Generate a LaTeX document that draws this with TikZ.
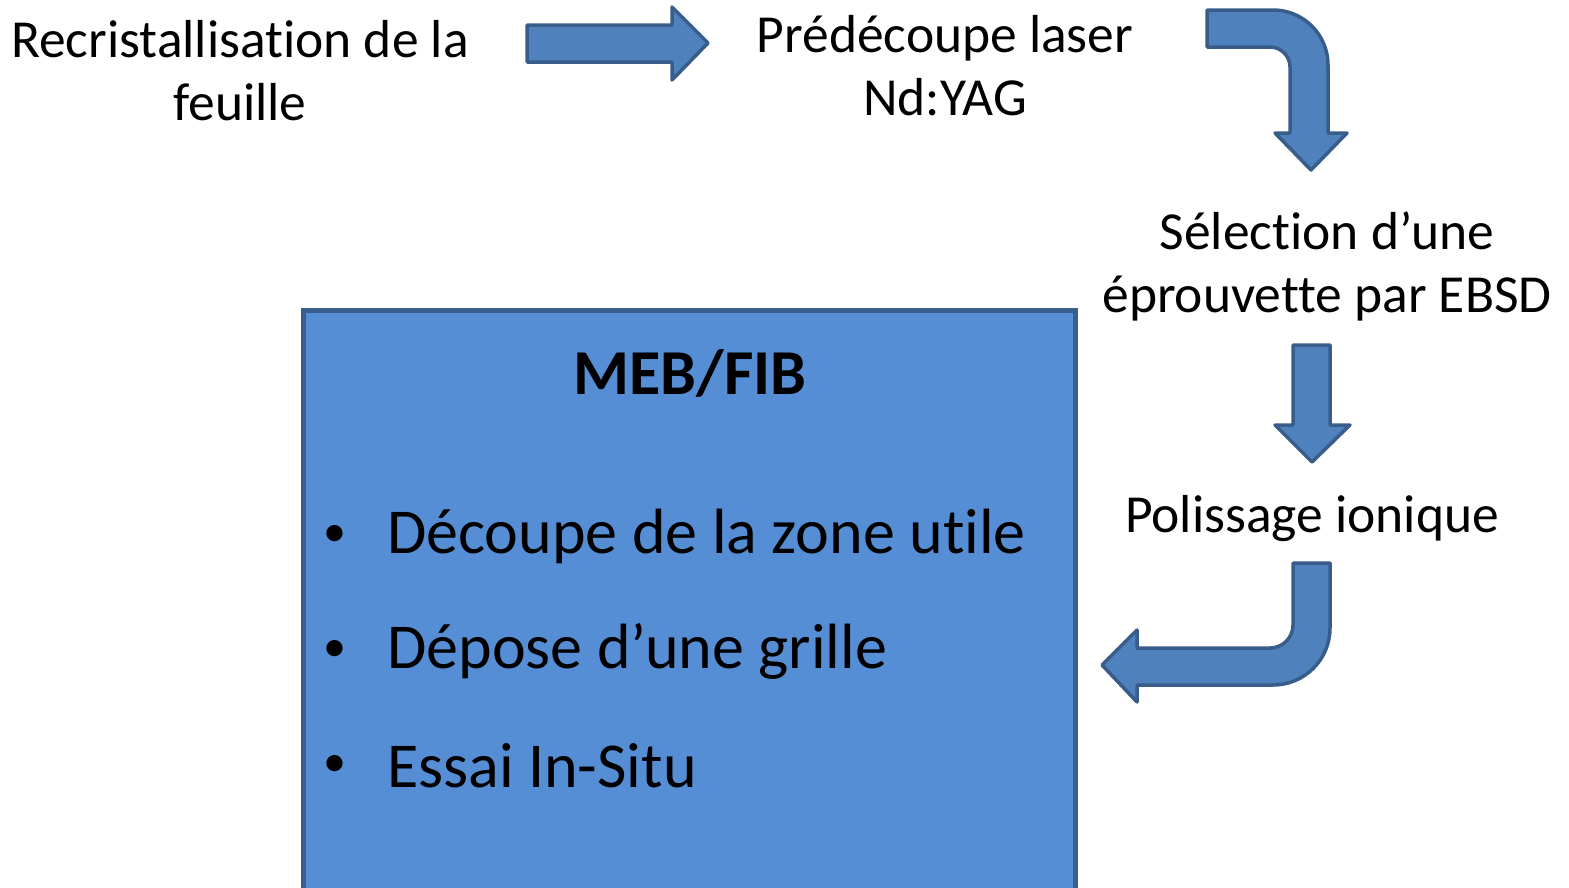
\documentclass[tikz,border=0pt]{standalone}
\usepackage{fontspec}
\setmainfont[Ligatures=NoCommon]{Carlito}
\definecolor{arrfill}{HTML}{4F81BD}
\definecolor{arrdraw}{HTML}{385D8A}
\definecolor{boxfill}{HTML}{558ED5}
\definecolor{boxdraw}{HTML}{3A5F8C}
\begin{document}
\begin{tikzpicture}[x=1pt,y=-1pt,
  blockarrow/.style={fill=arrfill,draw=arrdraw,line width=3.5pt,line join=round},
  steptext/.style={align=center,inner sep=0pt,font=\fontsize{53.5}{63}\selectfont},
  itemtext/.style={anchor=west,inner sep=0pt,font=\fontsize{64}{70}\selectfont},
  bulletmark/.style={inner sep=0pt,font=\fontsize{46}{50}\selectfont}]
\useasboundingbox (0,0) rectangle (1569,887);
\clip (0,0) rectangle (1569,887);
% box
\draw[fill=boxfill,draw=boxdraw,line width=5pt] (303,310) rectangle (1075,920);
% texts
\node[steptext] (recri) at (240,71) {Recristallisation de la\\feuille};
\node[steptext] (laser) at (945,66) {Prédécoupe laser\\Nd:YAG};
\node[steptext] (ebsd) at (1327,266) {Sélection d’une\\éprouvette par EBSD};
\node[steptext] (poli) at (1312,519) {Polissage ionique};
\node[inner sep=0pt,font=\fontsize{64}{70}\selectfont\bfseries] (meb) at (690,373) {MEB/FIB};
\node[bulletmark] (b1) at (335,536) {•};
\node[itemtext] (i1) at (387,536) {Découpe de la zone utile};
\node[bulletmark] (b2) at (335,651) {•};
\node[itemtext] (i2) at (387,651) {Dépose d’une grille};
\node[bulletmark] (b3) at (335,766) {•};
\node[itemtext] (i3) at (387,766) {Essai In-Situ};
% arrow 1
\draw[blockarrow] (527,25) -- (672,25) -- (672,7) -- (708,43) -- (672,80) -- (672,62) -- (527,62) -- cycle;
% arrow 2
\draw[blockarrow] (1207,10) -- (1273,10) .. controls (1303.4,10) and (1328,34.6) .. (1328,65)
  -- (1328,133) -- (1347,133) -- (1311,170) -- (1275,133) -- (1290,133) -- (1290,67)
  .. controls (1290,56) and (1281,47) .. (1270,47) -- (1207,47) -- cycle;
% arrow 3
\draw[blockarrow] (1293,345) -- (1330,345) -- (1330,425) -- (1350,425) -- (1312,462) -- (1275,425) -- (1293,425) -- cycle;
% arrow 4
\draw[blockarrow] (1293,563) -- (1330,563) -- (1330,628) .. controls (1330,659.5) and (1304.5,685) .. (1273,685)
  -- (1137,685) -- (1137,702) -- (1102,665) -- (1137,630) -- (1137,648) -- (1270,648)
  .. controls (1282.7,648) and (1293,637.7) .. (1293,625) -- cycle;
\end{tikzpicture}
\end{document}
